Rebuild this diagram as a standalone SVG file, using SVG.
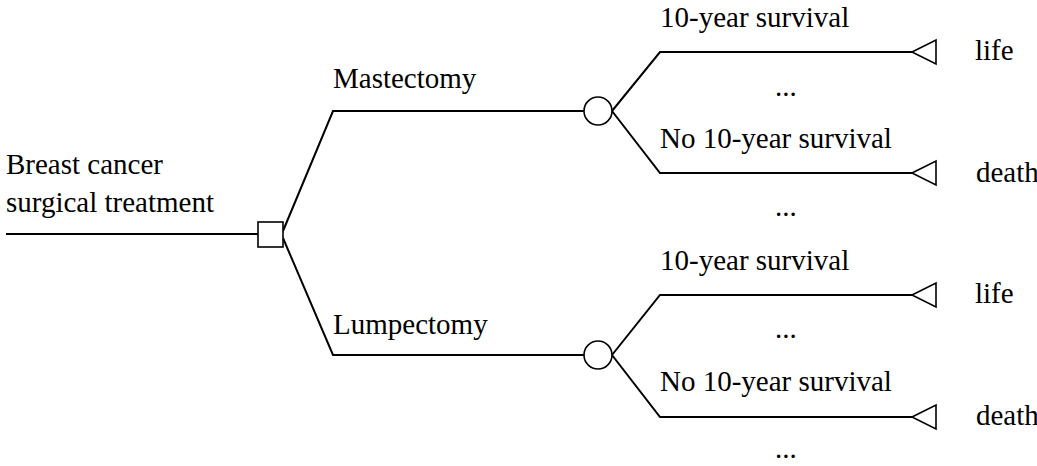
<svg xmlns="http://www.w3.org/2000/svg" width="1037" height="466" viewBox="0 0 1037 466">
<style>
text{font-family:"Liberation Serif","Times New Roman",serif;font-size:29px;fill:#000}
.ln{fill:none;stroke:#000;stroke-width:2;stroke-linejoin:miter}
.nd{fill:#fff;stroke:#000;stroke-width:1.6}
</style>
<rect width="1037" height="466" fill="#fff"/>
<g id="connectors">
<path class="ln" d="M6,234 H258"/>
<path class="ln" d="M283,231 L333,111 H584"/>
<path class="ln" d="M283,238 L333,355 H584"/>
<path class="ln" d="M612,111 L660,52 H912"/>
<path class="ln" d="M612,111 L660,173 H912"/>
<path class="ln" d="M612,355 L660,295 H912"/>
<path class="ln" d="M612,355 L660,417 H912"/>
</g>
<g id="root">
<text x="6" y="174">Breast cancer</text>
<text x="6" y="212">surgical treatment</text>
</g>
<g id="decision"><rect class="nd" x="258" y="222" width="25" height="25"/></g>
<g id="mastectomy"><text x="333" y="88">Mastectomy</text></g>
<g id="lumpectomy"><text x="333" y="334">Lumpectomy</text></g>
<g id="chance1"><circle class="nd" cx="598" cy="111" r="14"/></g>
<g id="chance2"><circle class="nd" cx="598" cy="355" r="14"/></g>
<g id="m-survival">
<text x="660" y="27">10-year survival</text>
<text x="775" y="96">...</text>
</g>
<g id="m-nosurvival">
<text x="660" y="148">No 10-year survival</text>
<text x="775" y="216">...</text>
</g>
<g id="l-survival">
<text x="660" y="270">10-year survival</text>
<text x="775" y="338">...</text>
</g>
<g id="l-nosurvival">
<text x="660" y="391">No 10-year survival</text>
<text x="775" y="458">...</text>
</g>
<g id="t1"><polygon class="nd" points="912,52 936,40 936,64"/><text x="975" y="60">life</text></g>
<g id="t2"><polygon class="nd" points="912,173 936,161 936,185"/><text x="976" y="182">death</text></g>
<g id="t3"><polygon class="nd" points="912,295 936,283 936,307"/><text x="975" y="303">life</text></g>
<g id="t4"><polygon class="nd" points="912,417 936,405 936,429"/><text x="976" y="425">death</text></g>
</svg>
